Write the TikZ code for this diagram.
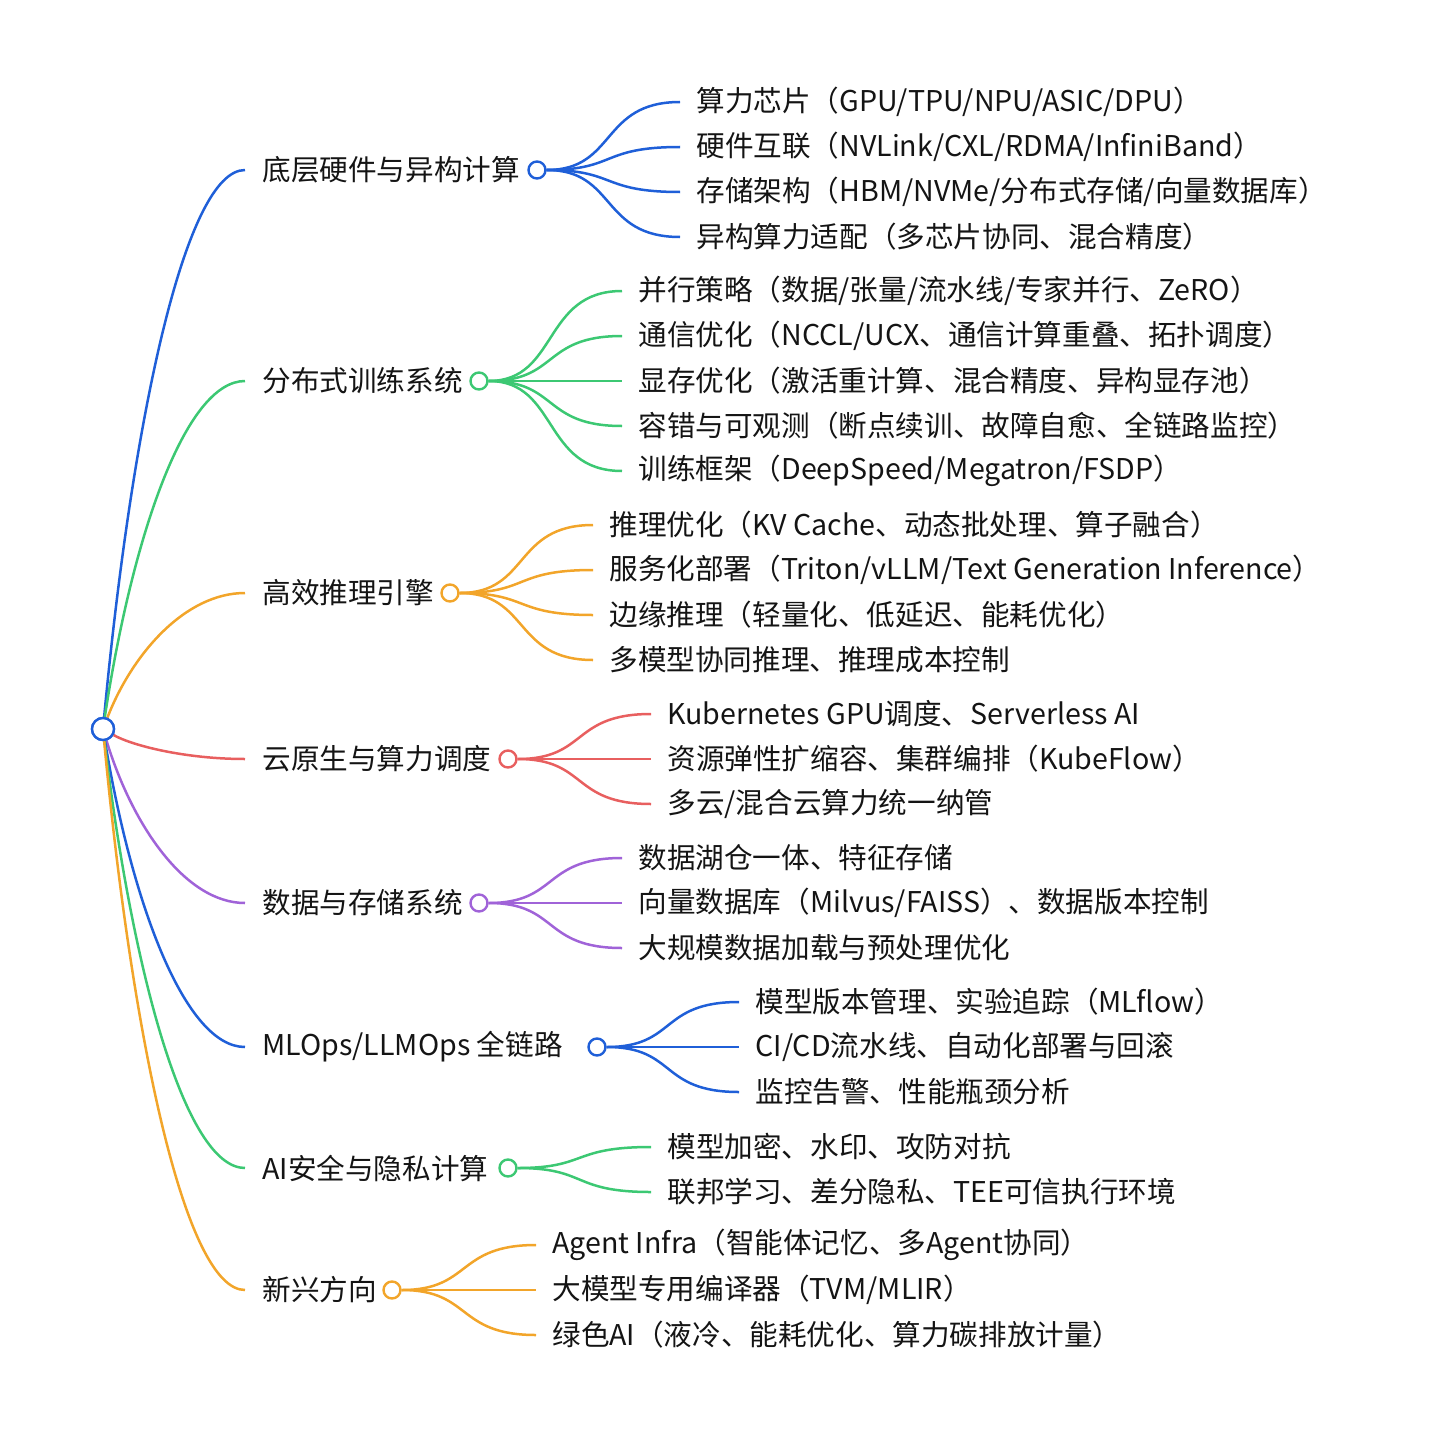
\documentclass[tikz,border=0pt]{standalone}
\usepackage{fontspec}
\setmainfont{Noto Sans CJK SC}
\usetikzlibrary{calc}
\definecolor{cb}{HTML}{1F5FD8}
\definecolor{cg}{HTML}{3CC873}
\definecolor{co}{HTML}{F2A52A}
\definecolor{cr}{HTML}{E85F5F}
\definecolor{cp}{HTML}{A063D8}
\begin{document}
\begin{tikzpicture}[x=0.5pt,y=-0.5pt,
  lab/.style={anchor=west,inner xsep=0pt,inner ysep=0pt,font=\fontsize{14.3pt}{16pt}\selectfont,text=black!92},
  dot/.style={circle,draw,line width=1.2pt,fill=white,minimum size=8.5pt,inner sep=0pt},
  ln/.style={line width=1.25pt}]
\useasboundingbox (0,0) rectangle (1440,1434);
\node[dot,draw=cb,minimum size=11pt] (root) at (103,729) {};
% main(name, color, y, circlex, text)
\newcommand{\mainbr}[5]{%
  \coordinate (#1s) at (245,#3);
  \draw[ln,#2] (root) .. controls (132,{0.45*729+0.55*#3}) and (185,#3) .. (#1s);
  \node[lab] (#1l) at (262,#3) {#5};
  \node[dot,draw=#2] (#1c) at (#4,#3) {};}
% child(name, parent, color, y, xend, text)
\newcommand{\childbr}[6]{%
  \coordinate (#1e) at (#5,#4);
  \draw[ln,#3] (#2c.east) .. controls ($(#2c.east)+(70,0)$) and (#5-80,#4) .. (#1e);
  \node[lab] (#1) at (#5+16,#4) {#6};}
\mainbr{a}{cb}{170}{537}{底层硬件与异构计算}
\mainbr{b}{cg}{381}{479}{分布式训练系统}
\mainbr{c}{co}{593}{450}{高效推理引擎}
\mainbr{d}{cr}{759}{508}{云原生与算力调度}
\mainbr{e}{cp}{903}{479}{数据与存储系统}
\mainbr{f}{cb}{1047}{597}{MLOps/LLMOps 全链路}
\mainbr{g}{cg}{1168}{508}{AI安全与隐私计算}
\mainbr{h}{co}{1290}{392}{新兴方向}
\childbr{a1}{a}{cb}{102}{680}{算力芯片（GPU/TPU/NPU/ASIC/DPU）}
\childbr{a2}{a}{cb}{147}{680}{硬件互联（NVLink/CXL/RDMA/InfiniBand）}
\childbr{a3}{a}{cb}{192}{680}{存储架构（HBM/NVMe/分布式存储/向量数据库）}
\childbr{a4}{a}{cb}{237}{680}{异构算力适配（多芯片协同、混合精度）}
\childbr{b1}{b}{cg}{291}{622}{并行策略（数据/张量/流水线/专家并行、ZeRO）}
\childbr{b2}{b}{cg}{336}{622}{通信优化（NCCL/UCX、通信计算重叠、拓扑调度）}
\childbr{b3}{b}{cg}{381}{622}{显存优化（激活重计算、混合精度、异构显存池）}
\childbr{b4}{b}{cg}{426}{622}{容错与可观测（断点续训、故障自愈、全链路监控）}
\childbr{b5}{b}{cg}{471}{622}{训练框架（DeepSpeed/Megatron/FSDP）}
\childbr{c1}{c}{co}{525}{593}{推理优化（KV Cache、动态批处理、算子融合）}
\childbr{c2}{c}{co}{570}{593}{服务化部署（Triton/vLLM/Text Generation Inference）}
\childbr{c3}{c}{co}{615}{593}{边缘推理（轻量化、低延迟、能耗优化）}
\childbr{c4}{c}{co}{660}{593}{多模型协同推理、推理成本控制}
\childbr{d1}{d}{cr}{714}{651}{Kubernetes GPU调度、Serverless AI}
\childbr{d2}{d}{cr}{759}{651}{资源弹性扩缩容、集群编排（KubeFlow）}
\childbr{d3}{d}{cr}{804}{651}{多云/混合云算力统一纳管}
\childbr{e1}{e}{cp}{858}{622}{数据湖仓一体、特征存储}
\childbr{e2}{e}{cp}{903}{622}{向量数据库（Milvus/FAISS）、数据版本控制}
\childbr{e3}{e}{cp}{948}{622}{大规模数据加载与预处理优化}
\childbr{f1}{f}{cb}{1002}{739}{模型版本管理、实验追踪（MLflow）}
\childbr{f2}{f}{cb}{1047}{739}{CI/CD流水线、自动化部署与回滚}
\childbr{f3}{f}{cb}{1092}{739}{监控告警、性能瓶颈分析}
\childbr{g1}{g}{cg}{1147}{651}{模型加密、水印、攻防对抗}
\childbr{g2}{g}{cg}{1192}{651}{联邦学习、差分隐私、TEE可信执行环境}
\childbr{h1}{h}{co}{1245}{536}{Agent Infra（智能体记忆、多Agent协同）}
\childbr{h2}{h}{co}{1290}{536}{大模型专用编译器（TVM/MLIR）}
\childbr{h3}{h}{co}{1335}{536}{绿色AI（液冷、能耗优化、算力碳排放计量）}
\node[dot,draw=cb,minimum size=11pt] (root2) at (root) {};
\end{tikzpicture}
\end{document}
